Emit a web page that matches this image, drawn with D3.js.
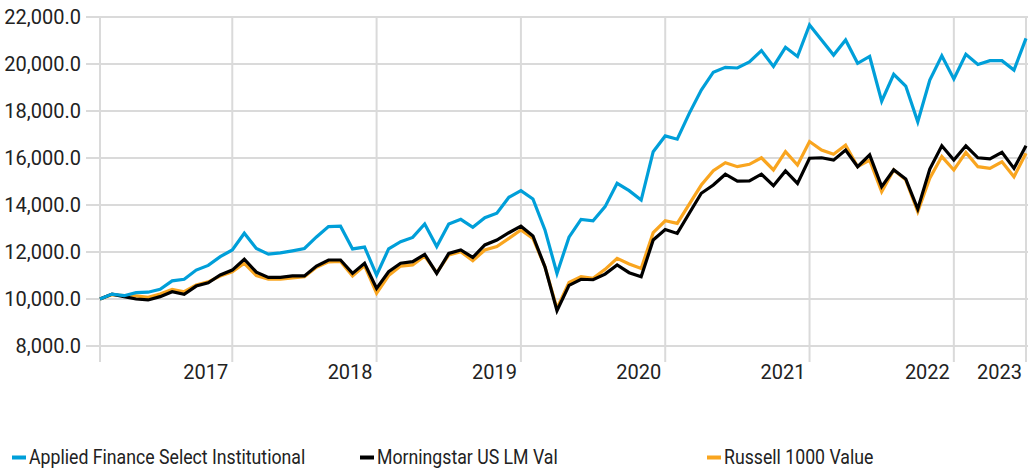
<!DOCTYPE html>
<html>
<head>
<meta charset="utf-8">
<script src="https://cdn.jsdelivr.net/npm/d3@7"></script>
<style>
  body { margin: 0; background: #fff; }
  text { font-family: "Roboto", "Liberation Sans", sans-serif; fill: #222; }
</style>
</head>
<body>
<div id="chart"></div>
<script>
// month index 0..77, year gridlines at these indices
const yearTicks = [11, 23, 35, 47, 59, 71, 77]
const yearLabels = ["2017", "2018", "2019", "2020", "2021", "2022", "2023"]
const yTicks = [8000, 10000, 12000, 14000, 16000, 18000, 20000, 22000]

const seriesNames = ["Applied Finance Select Institutional", "Morningstar US LM Val", "Russell 1000 Value"]
const seriesColors = ["#009fd9", "#000000", "#f9a51f"]

const appliedFinance = [
  10000, 10210, 10140, 10270, 10290, 10410, 10770, 10840, 11230, 11430, 11800, 12085,
  12800, 12150, 11910, 11960, 12050, 12150, 12640, 13080, 13100, 12130, 12210, 11020,
  12130, 12440, 12620, 13190, 12230, 13190, 13390, 13050, 13460, 13650, 14330, 14610,
  14255, 12940, 11090, 12630, 13390, 13330, 13930, 14920, 14610, 14210, 16270, 16940,
  16800, 17900, 18890, 19650, 19860, 19830, 20090, 20570, 19900, 20710, 20320, 21660,
  21020, 20380, 21020, 20030, 20320, 18420, 19560, 19060, 17540, 19320, 20350, 19360,
  20410, 19980, 20140, 20140, 19740, 21090
]
const morningstarLMVal = [
  10000, 10210, 10100, 10000, 9960, 10100, 10310, 10200, 10550, 10690, 11020, 11230,
  11690, 11140, 10920, 10920, 10980, 10980, 11400, 11660, 11660, 11090, 11520, 10450,
  11160, 11520, 11590, 11900, 11090, 11940, 12085, 11770, 12300, 12510, 12820, 13100,
  12680, 11370, 9500, 10580, 10840, 10820, 11060, 11450, 11120, 10950, 12510, 12960,
  12790, 13650, 14500, 14850, 15310, 15020, 15030, 15310, 14820, 15450, 14920, 15990,
  16010, 15910, 16340, 15630, 16130, 14780, 15500, 15110, 13830, 15530, 16520, 15910,
  16520, 16010, 15960, 16240, 15560, 16520
]
const russell1000Value = [
  10000, 10180, 10140, 10130, 10070, 10210, 10410, 10310, 10600, 10730, 10980, 11160,
  11520, 11000, 10850, 10850, 10900, 10950, 11350, 11580, 11600, 10980, 11420, 10250,
  11000, 11400, 11450, 11830, 11120, 11870, 12010, 11630, 12085, 12230, 12580, 12940,
  12580, 11370, 9600, 10700, 10950, 10880, 11260, 11730, 11490, 11300, 12820, 13330,
  13220, 14040, 14850, 15460, 15800, 15630, 15730, 16010, 15490, 16270, 15700, 16700,
  16340, 16160, 16550, 15630, 15910, 14570, 15490, 15070, 13720, 15140, 16060, 15490,
  16240, 15630, 15560, 15840, 15200, 16200
]

const width = 1035
const height = 468

const svg = d3.select("#chart").append("svg")
  .attr("width", width)
  .attr("height", height)

/**
 * Scales
 */
const x = d3.scaleLinear().domain([0, appliedFinance.length - 1]).range([100, 1026])
const y = d3.scaleLinear().domain([8000, 22000]).range([346, 17])

/**
 * Grid
 */
const grid = svg.append("g")
grid.selectAll("line.h")
  .data(yTicks)
  .enter().append("line")
  .attr("class", "h")
  .attr("x1", 86).attr("x2", 1028)
  .attr("y1", d => y(d)).attr("y2", d => y(d))
  .attr("stroke", "#dadada").attr("stroke-width", 2)

grid.selectAll("line.v")
  .data([0].concat(yearTicks))
  .enter().append("line")
  .attr("class", "v")
  .attr("x1", d => x(d)).attr("x2", d => x(d))
  .attr("y1", 17).attr("y2", 362)
  .attr("stroke", "#dadada").attr("stroke-width", 2)

// y labels
svg.append("g").selectAll("text")
  .data(yTicks)
  .enter().append("text")
  .attr("x", 81)
  .attr("y", d => y(d))
  .attr("dy", "0.35em")
  .attr("text-anchor", "end")
  .attr("font-size", 20)
  .text(d => d3.format(",.1f")(d))

// x labels
svg.append("g").selectAll("text")
  .data(yearTicks)
  .enter().append("text")
  .attr("x", d => x(d) - 4)
  .attr("y", 372)
  .attr("dy", "0.35em")
  .attr("text-anchor", "end")
  .attr("font-size", 20)
  .text((d, i) => yearLabels[i])

/**
 * Lines (orange under black, blue on top)
 */
const line = d3.line()
  .x((d, i) => x(i))
  .y(d => y(d))

const drawOrder = [
  { values: russell1000Value, color: seriesColors[2] },
  { values: morningstarLMVal, color: seriesColors[1] },
  { values: appliedFinance, color: seriesColors[0] }
]
svg.append("g").selectAll("path")
  .data(drawOrder)
  .enter().append("path")
  .attr("d", d => line(d.values))
  .attr("fill", "none")
  .attr("stroke", d => d.color)
  .attr("stroke-width", 3.2)
  .attr("stroke-linejoin", "miter")

/**
 * Legend (text is narrow in the original, so squeeze it)
 */
const legendX = [12, 360, 707]
const legend = svg.append("g").selectAll("g")
  .data(seriesNames)
  .enter().append("g")
  .attr("transform", (d, i) => `translate(${legendX[i]}, 457)`)
legend.append("rect")
  .attr("x", 0).attr("y", -1.5)
  .attr("width", 14).attr("height", 4)
  .attr("fill", (d, i) => seriesColors[i])
legend.append("text")
  .attr("transform", "translate(17, 0) scale(0.885, 1)")
  .attr("dy", "0.35em")
  .attr("font-size", 20)
  .text(d => d)
</script>
</body>
</html>
